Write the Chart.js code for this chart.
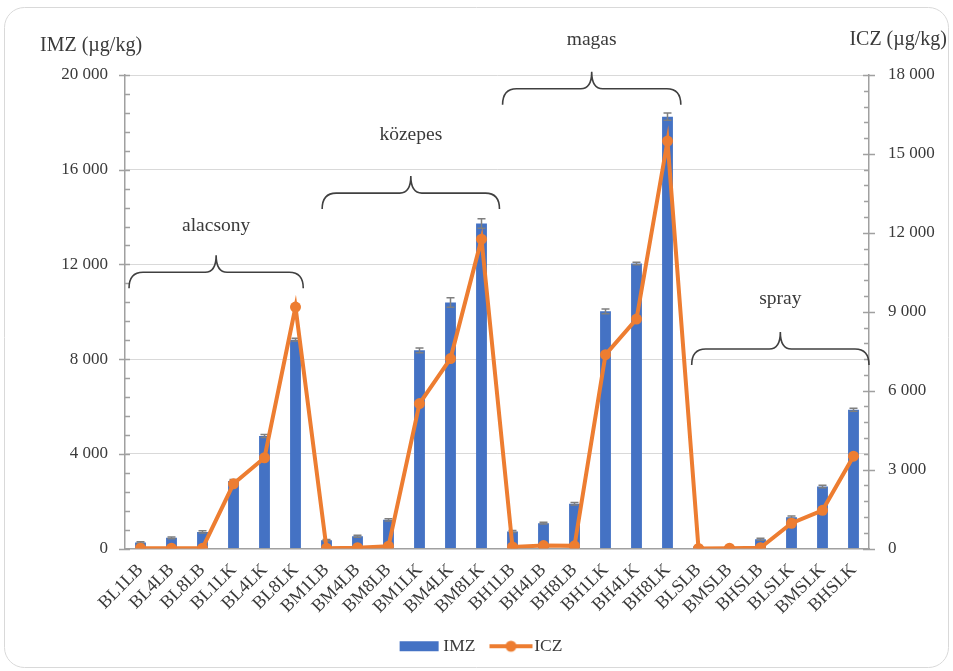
<!DOCTYPE html>
<html><head><meta charset="utf-8">
<script src="https://cdn.jsdelivr.net/npm/chart.js@4.4.0/dist/chart.umd.min.js"></script>
<style>html,body{margin:0;padding:0;background:#fff;overflow:hidden}#wrap{width:953px;height:671px;position:relative}</style>
</head><body><div id="wrap"><canvas id="c" width="953" height="671"></canvas></div>
<script>
const categories = ['BL1LB','BL4LB','BL8LB','BL1LK','BL4LK','BL8LK','BM1LB','BM4LB','BM8LB','BM1LK','BM4LK','BM8LK','BH1LB','BH4LB','BH8LB','BH1LK','BH4LK','BH8LK','BLSLB','BMSLB','BHSLB','BLSLK','BMSLK','BHSLK'];
const imzValues = [250, 450, 700, 2850, 4750, 8820, 350, 520, 1210, 8370, 10390, 13730, 720, 1070, 1890, 10020, 12040, 18240, 80, 100, 390, 1320, 2620, 5860];
const imzErrors = [40, 40, 50, 60, 60, 60, 30, 40, 50, 100, 200, 200, 40, 40, 50, 100, 50, 150, 20, 20, 40, 50, 50, 60];
const iczValues = [10, 10, 10, 2460, 3450, 9180, 10, 30, 90, 5510, 7220, 11760, 60, 110, 100, 7370, 8720, 15490, 0, 10, 30, 960, 1450, 3510];
const imzTicks = [0, 4000, 8000, 12000, 16000, 20000];
const iczTicks = [0, 3000, 6000, 9000, 12000, 15000, 18000];
const groupNames = ['alacsony', 'közepes', 'magas', 'spray'];

const FONT = '"Liberation Serif", "Times New Roman", serif';
const TXT = '#3a3a3a';
const BLUE = '#4472C4';
const ORANGE = '#ED7D31';
const fmt = v => String(v).replace(/\B(?=(\d{3})+(?!\d))/g, ' ');

function mkImg(draw){const c=document.createElement('canvas');c.width=80;c.height=14;draw(c.getContext('2d'));return c;}
const imgIMZ = mkImg(g=>{g.fillStyle=BLUE;g.fillRect(20,2,39,10);});
const imgICZ = mkImg(g=>{g.strokeStyle=ORANGE;g.lineWidth=4;g.beginPath();g.moveTo(19,7);g.lineTo(62,7);g.stroke();g.fillStyle=ORANGE;g.beginPath();g.arc(40.5,7,5.5,0,Math.PI*2);g.fill();});

const decor = {
  id: 'decor',
  beforeDraw(chart){
    const ctx = chart.ctx;
    ctx.save();
    ctx.strokeStyle = '#d9d9d9'; ctx.lineWidth = 1;
    ctx.beginPath();
    if (ctx.roundRect) ctx.roundRect(4.5, 7.5, 944, 660, 20); else ctx.rect(4.5,7.5,944,660);
    ctx.stroke();
    ctx.restore();
  },
  afterDatasetDraw(chart, args, opts){
    if (args.index !== 0) return;
    const ctx = chart.ctx, x = chart.scales.x, y = chart.scales.y;
    ctx.save();
    ctx.strokeStyle = '#7f7f7f'; ctx.lineWidth = 1.5;
    imzValues.forEach((v,i)=>{
      const px = x.getPixelForValue(i);
      const t = y.getPixelForValue(v + imzErrors[i]);
      const b = y.getPixelForValue(v - imzErrors[i]);
      ctx.beginPath();
      ctx.moveTo(px, b); ctx.lineTo(px, t);
      ctx.moveTo(px-4, t); ctx.lineTo(px+4, t);
      ctx.moveTo(px-4, b); ctx.lineTo(px+4, b);
      ctx.stroke();
    });
    ctx.restore();
  },
  afterDraw(chart, args, opts){
    const ctx = chart.ctx, x = chart.scales.x, y = chart.scales.y, y1 = chart.scales.y1;
    const a = chart.chartArea;
    ctx.save();
    ctx.strokeStyle = '#a0a0a0'; ctx.lineWidth = 1.5;
    ctx.beginPath();
    for (let v = 0; v <= 20000; v += 800) {
      const py = Math.round(y.getPixelForValue(v)) + 0.5;
      if (v % 4000 === 0) { ctx.moveTo(a.left-6, py); ctx.lineTo(a.left+5, py); }
      else { ctx.moveTo(a.left, py); ctx.lineTo(a.left+5, py); }
    }
    for (let v = 0; v <= 18000; v += 600) {
      const py = Math.round(y1.getPixelForValue(v)) + 0.5;
      if (v % 3000 === 0) { ctx.moveTo(a.right-6, py); ctx.lineTo(a.right+6, py); }
      else { ctx.moveTo(a.right-5, py); ctx.lineTo(a.right, py); }
    }
    ctx.stroke();
    ctx.fillStyle = TXT;
    ctx.font = '20px ' + FONT;
    ctx.textBaseline = 'middle';
    ctx.textAlign = 'left';
    ctx.fillText('IMZ (µg/kg)', 40, 46);
    ctx.textAlign = 'right';
    ctx.fillText('ICZ (µg/kg)', 947, 40);
    ctx.font = '19.5px ' + FONT;
    ctx.strokeStyle = '#404040'; ctx.lineWidth = 1.6;
    opts.groups.forEach((g, k)=>{
      const x0 = x.getPixelForValue(g.from), x1 = x.getPixelForValue(g.to);
      const xm = (x0 + x1) / 2;
      const yp = y.getPixelForValue(g.peak);
      const yl = yp + 17, yt = yp + 33;
      const r = 14, rm = 11;
      ctx.beginPath();
      ctx.moveTo(x0, yt);
      ctx.quadraticCurveTo(x0, yl, x0 + r, yl);
      ctx.lineTo(xm - rm, yl);
      ctx.quadraticCurveTo(xm, yl, xm, yp);
      ctx.quadraticCurveTo(xm, yl, xm + rm, yl);
      ctx.lineTo(x1 - r, yl);
      ctx.quadraticCurveTo(x1, yl, x1, yt);
      ctx.stroke();
      ctx.textAlign = 'center';
      ctx.fillText(groupNames[k], xm, y.getPixelForValue(g.label));
    });
    ctx.restore();
  }
};

new Chart(document.getElementById('c'), {
  data: {
    labels: categories,
    datasets: [
      { type: 'bar', label: 'IMZ', data: imzValues, backgroundColor: BLUE, yAxisID: 'y', order: 1,
        barPercentage: 0.35, categoryPercentage: 1.0 },
      { type: 'line', label: 'ICZ', data: iczValues, borderColor: ORANGE, backgroundColor: ORANGE, yAxisID: 'y1', order: 0,
        borderWidth: 4, pointRadius: 5.5, pointHoverRadius: 5.5, pointBackgroundColor: ORANGE, pointBorderWidth: 0, tension: 0 }
    ]
  },
  options: {
    responsive: false, animation: false, devicePixelRatio: 1,
    layout: { padding: { top: 75, left: 14, right: 0, bottom: 6 } },
    scales: {
      x: {
        grid: { display: false, drawTicks: false },
        border: { color: '#a0a0a0', width: 1.5 },
        ticks: { color: TXT, font: { family: FONT, size: 18 }, minRotation: 45, maxRotation: 45, autoSkip: false, padding: 11 },
        afterFit: s => { s.height = 69; }
      },
      y: {
        position: 'left', min: 0, max: 20000,
        grid: { color: '#d9d9d9', lineWidth: 1, drawTicks: false },
        border: { color: '#a0a0a0', width: 1.5 },
        ticks: { color: TXT, font: { family: FONT, size: 17 }, padding: 17, callback: v => fmt(v) },
        afterBuildTicks: s => { s.ticks = imzTicks.map(v => ({ value: v })); },
        afterFit: s => { s.width = 111; }
      },
      y1: {
        position: 'right', min: 0, max: 18000,
        grid: { display: true, drawOnChartArea: false, drawTicks: false },
        border: { color: '#a0a0a0', width: 1.5 },
        ticks: { color: TXT, font: { family: FONT, size: 17 }, padding: 19, callback: v => fmt(v) },
        afterBuildTicks: s => { s.ticks = iczTicks.map(v => ({ value: v })); },
        afterFit: s => { s.width = 84; }
      }
    },
    plugins: {
      tooltip: { enabled: false },
      legend: {
        position: 'bottom',
        labels: {
          usePointStyle: true, pointStyleWidth: 30, padding: 20,
          color: TXT, font: { family: FONT, size: 17.5 },
          generateLabels: () => [
            { text: 'IMZ', pointStyle: imgIMZ, fillStyle: BLUE, strokeStyle: BLUE, lineWidth: 0, hidden: false, datasetIndex: 0, fontColor: TXT },
            { text: 'ICZ', pointStyle: imgICZ, fillStyle: ORANGE, strokeStyle: ORANGE, lineWidth: 0, hidden: false, datasetIndex: 1, fontColor: TXT }
          ]
        }
      },
      decor: {
        groups: [
          { from: -0.37, to: 5.25, peak: 12389, label: 13615 },
          { from: 5.86, to: 11.58, peak: 15729, label: 17463 },
          { from: 11.68, to: 17.43, peak: 20140, label: 21480 },
          { from: 17.78, to: 23.5, peak: 9146, label: 10529 }
        ]
      }
    }
  },
  plugins: [decor]
});
</script></body></html>
